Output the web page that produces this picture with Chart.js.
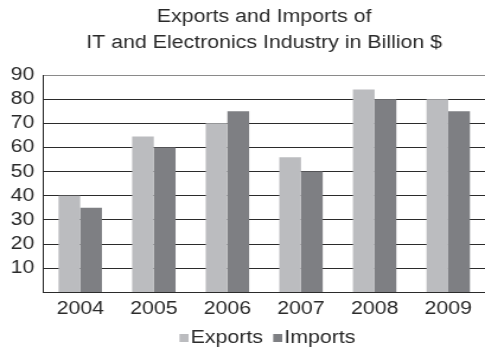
<!DOCTYPE html>
<html>
<head>
<meta charset="utf-8">
<script src="https://cdn.jsdelivr.net/npm/chart.js@4"></script>
<style>
  body { margin: 0; background: #fff; }
</style>
</head>
<body>
<!-- the reference looks stretched sideways, so draw narrower and let css widen it -->
<canvas id="chart" width="409" height="347" style="width:485px;height:347px"></canvas>
<script>
const years = ['2004', '2005', '2006', '2007', '2008', '2009'];
const exportsData = [40, 64.5, 70, 56, 84, 80];
const importsData = [35, 60, 75, 50, 80, 75];
const yTicks = [0, 10, 20, 30, 40, 50, 60, 70, 80, 90];

const exportsColor = '#bbbcbf';
const importsColor = '#7e7f83';
const textColor = '#2a2a2a';
const lineColor = '#2b2b2b';
const fontFamily = "'Liberation Sans', Arial, sans-serif";

// small square sitting right next to the label text, with a bit of blank space before it
function legendSquare(color) {
    let c = document.createElement('canvas');
    c.width = 21;
    c.height = 8;
    let ctx = c.getContext('2d');
    ctx.fillStyle = color;
    ctx.fillRect(13, 0, 8, 8);
    return c;
}
const legendBoxes = [legendSquare(exportsColor), legendSquare(importsColor)];

new Chart('chart', {
    type: 'bar',
    data: {
        labels: years,
        datasets: [
            { label: 'Exports', data: exportsData, backgroundColor: exportsColor },
            { label: 'Imports', data: importsData, backgroundColor: importsColor }
        ]
    },
    options: {
        responsive: false,
        animation: false,
        devicePixelRatio: 1,
        layout: { padding: { left: 1.6, right: 0, top: 0, bottom: -10 } },
        datasets: { bar: { categoryPercentage: 0.59, barPercentage: 1 } },
        plugins: {
            title: {
                display: true,
                fullSize: false,
                text: ['Exports and Imports of', 'IT and Electronics Industry in Billion $'],
                color: textColor,
                font: { family: fontFamily, size: 18, weight: 'normal', lineHeight: 26 / 18 },
                padding: { top: 4, bottom: 19 }
            },
            legend: {
                position: 'bottom',
                fullSize: false,
                labels: {
                    color: textColor,
                    font: { family: fontFamily, size: 18 },
                    usePointStyle: true,
                    pointStyleWidth: 6,
                    boxHeight: 8,
                    padding: 3,
                    generateLabels: chart => Chart.defaults.plugins.legend.labels.generateLabels(chart).map((item, i) => {
                        item.pointStyle = legendBoxes[i];
                        return item;
                    })
                }
            },
            tooltip: { enabled: false }
        },
        scales: {
            x: {
                grid: { display: false, drawTicks: false },
                border: { color: lineColor, width: 1 },
                ticks: { color: textColor, font: { family: fontFamily, size: 18 }, padding: 6 },
                afterFit: scale => {
                    scale.paddingLeft = 0;
                    scale.paddingRight = 0;
                }
            },
            y: {
                min: 0,
                max: 90,
                afterBuildTicks: scale => {
                    scale.ticks = yTicks.map(v => ({ value: v }));
                },
                grid: {
                    color: ctx => ctx.tick && ctx.tick.value === 90 ? '#8a8a8a' : lineColor,
                    drawTicks: false
                },
                border: { color: lineColor, width: 1 },
                ticks: {
                    color: textColor,
                    font: { family: fontFamily, size: 18 },
                    padding: 7.5,
                    autoSkip: false,
                    callback: v => v === 0 ? '' : v
                }
            }
        }
    }
});
</script>
</body>
</html>
